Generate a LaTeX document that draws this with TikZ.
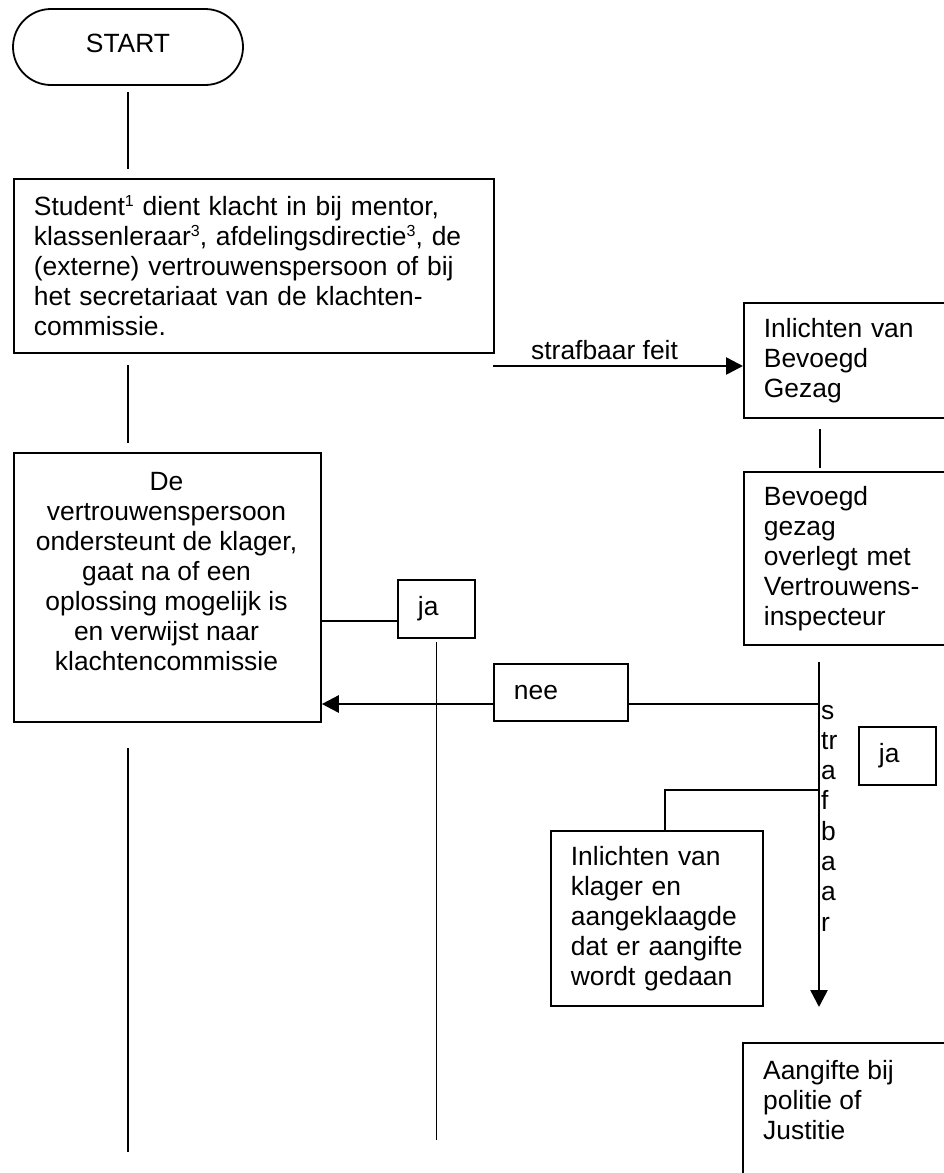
\documentclass[tikz,border=0pt]{standalone}
\usepackage{fontspec}
\setmainfont{Liberation Sans}
\usetikzlibrary{arrows.meta,calc}
\newcommand\diafont{\fontsize{26.4}{30}\selectfont}
\newcommand\supnum[1]{\raisebox{9pt}{\fontsize{16}{16}\selectfont #1}}
\begin{document}
\begin{tikzpicture}[x=1pt,y=-1pt,
  box/.style={draw, line width=1.8pt, rectangle, anchor=north west, inner xsep=20pt, inner ysep=0pt, align=left, font=\diafont},
  txt/.style={inner sep=0pt, font=\diafont},
  thinline/.style={line width=1.3pt},
  heavyline/.style={line width=2.6pt},
  heavyarrow/.style={line width=2.6pt, -{Triangle[length=17pt,width=17pt]}}]
\useasboundingbox (0,0) rectangle (944,1173);
\clip (0,0) rectangle (944,1173);

% nodes
\node[draw, line width=1.8pt, rounded corners=38pt, minimum width=230pt, minimum height=76pt, inner sep=0pt, text depth=8pt, font=\diafont] (start) at (128,47) {START};

\node[box, text width=440pt, minimum height=174pt] (b1) at (13,178)
  {Student\supnum{1} dient klacht in bij mentor,\\klassenleraar\supnum{3}, afdelingsdirectie\supnum{3}, de\\(externe) vertrouwenspersoon of bij\\het secretariaat van de klachten-\\commissie.};

\node[box, minimum width=307pt, minimum height=269pt] (b2) at (13,452) {};
\node[txt, align=center, anchor=north] (b2t) at (166.5,472)
  {De\\vertrouwenspersoon\\ondersteunt de klager,\\gaat na of een\\oplossing mogelijk is\\en verwijst naar\\klachtencommissie};

\node[box, text width=190pt, minimum height=115pt] (b3) at (743,302) {Inlichten van\\Bevoegd\\Gezag};
\node[box, text width=190pt, minimum height=173pt] (b4) at (743,471) {Bevoegd\\gezag\\overlegt met\\Vertrouwens-\\inspecteur};
\node[box, text width=172pt, minimum height=175pt] (b5) at (550,830) {Inlichten van\\klager en\\aangeklaagde\\dat er aangifte\\wordt gedaan};
\node[box, minimum width=230pt, minimum height=200pt] (b6) at (742,1042) {};
\node[txt, align=left, anchor=north west] (b6t) at (763,1060) {Aangifte bij\\politie of\\Justitie};

\node[box, text width=37pt, minimum height=58pt] (ja1) at (397,579) {ja};
\node[box, text width=94pt, minimum height=57pt] (nee) at (493,663) {nee};
\node[box, text width=37pt, minimum height=58pt] (ja2) at (858,726) {ja};

\node[txt, anchor=base west] (sflabel) at (531,359) {strafbaar feit};
\foreach \t [count=\i] in {s,tr,a,f,b,a,a,r}
  \node[txt, anchor=base west] (sl\i) at (821,{719+30.3*(\i-1)}) {\t};

% coordinates for free ends
\coordinate (l1a) at (128,92);
\coordinate (l1b) at (128,169);
\coordinate (l2a) at (128,365);
\coordinate (l2b) at (128,443);
\coordinate (l3a) at (128,748);
\coordinate (l3b) at (128,1152);
\coordinate (sf) at (493,366);
\coordinate (l5a) at (820,429);
\coordinate (l5b) at (820,468);
\coordinate (jl) at (358,621);
\coordinate (l7b) at (435,1140);
\coordinate (s0) at (819,662);
\coordinate (s1) at (819,1007);
\coordinate (n1) at (819,704);
\coordinate (k0) at (819,790);
\coordinate (k1) at (665,790);

% connectors
\draw[thinline] (l1a) -- (l1b);
\draw[thinline] (l2a) -- (l2b);
\draw[thinline] (l3a) -- (l3b);
\draw[heavyarrow] (sf) -- (sf -| b3.west);
\draw[thinline] (l5a) -- (l5b);
\draw[thinline] (jl -| b2.east) -- (jl -| ja1.west);
\draw[thinline] ([yshift=-3pt]ja1.south) -- (ja1.south |- l7b);
\draw[heavyarrow] (s0) -- (s1);
\draw[heavyline] (n1) -- (n1 -| nee.east);
\draw[heavyarrow] (n1 -| nee.west) -- (n1 -| b2.east);
\draw[thinline] (k0) -- (k1) -- (k1 |- b5.north);
\end{tikzpicture}
\end{document}
